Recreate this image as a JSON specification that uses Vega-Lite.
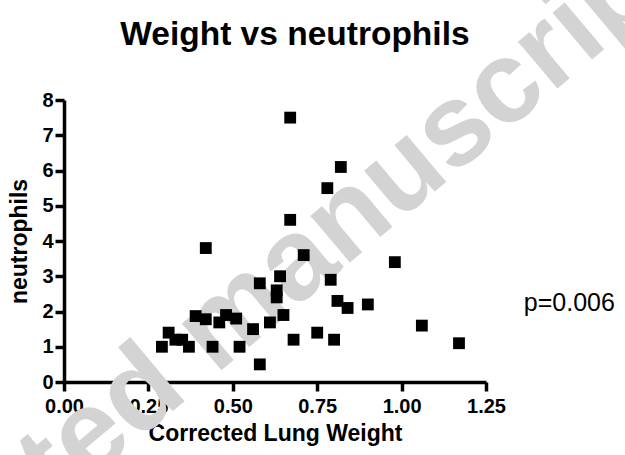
{
  "$schema": "https://vega.github.io/schema/vega-lite/v6.json",
  "width": 422,
  "height": 282,
  "autosize": "none",
  "padding": {"left": 64, "top": 100, "right": 139, "bottom": 73},
  "background": "white",
  "config": {
    "view": {"stroke": null},
    "axis": {
      "grid": false,
      "zindex": 1,
      "domainColor": "black",
      "domainWidth": 3.5,
      "tickColor": "black",
      "tickWidth": 3.5,
      "tickSize": 9,
      "labelFont": "Liberation Sans",
      "labelFontSize": 20,
      "labelFontWeight": "bold",
      "labelColor": "black",
      "labelOverlap": false,
      "titleFont": "Liberation Sans",
      "titleFontSize": 23,
      "titleFontWeight": "bold",
      "titleColor": "black"
    }
  },
  "datasets": {
    "points": [
      {"weight": 0.29, "neutrophils": 1.0},
      {"weight": 0.31, "neutrophils": 1.4},
      {"weight": 0.33, "neutrophils": 1.2},
      {"weight": 0.35, "neutrophils": 1.2},
      {"weight": 0.37, "neutrophils": 1.0},
      {"weight": 0.39, "neutrophils": 1.87},
      {"weight": 0.42, "neutrophils": 1.78},
      {"weight": 0.42, "neutrophils": 3.8},
      {"weight": 0.44, "neutrophils": 1.0},
      {"weight": 0.46, "neutrophils": 1.69},
      {"weight": 0.48, "neutrophils": 1.9},
      {"weight": 0.51, "neutrophils": 1.8},
      {"weight": 0.52, "neutrophils": 1.0},
      {"weight": 0.56, "neutrophils": 1.5},
      {"weight": 0.58, "neutrophils": 2.8},
      {"weight": 0.58, "neutrophils": 0.5},
      {"weight": 0.61, "neutrophils": 1.69},
      {"weight": 0.63, "neutrophils": 2.6},
      {"weight": 0.63, "neutrophils": 2.4},
      {"weight": 0.64, "neutrophils": 3.0},
      {"weight": 0.65, "neutrophils": 1.9},
      {"weight": 0.67, "neutrophils": 7.5},
      {"weight": 0.67, "neutrophils": 4.6},
      {"weight": 0.68, "neutrophils": 1.2},
      {"weight": 0.71, "neutrophils": 3.6},
      {"weight": 0.75, "neutrophils": 1.4},
      {"weight": 0.78, "neutrophils": 5.5},
      {"weight": 0.82, "neutrophils": 6.1},
      {"weight": 0.79, "neutrophils": 2.9},
      {"weight": 0.81, "neutrophils": 2.3},
      {"weight": 0.84, "neutrophils": 2.1},
      {"weight": 0.90, "neutrophils": 2.2},
      {"weight": 0.98, "neutrophils": 3.4},
      {"weight": 0.80, "neutrophils": 1.2},
      {"weight": 1.06, "neutrophils": 1.6},
      {"weight": 1.17, "neutrophils": 1.1}
    ],
    "watermark": [{"label": "Accepted manuscript"}],
    "annotation": [{"label": "p=0.006"}],
    "heading": [{"label": "Weight vs neutrophils"}]
  },
  "layer": [
    {
      "data": {"name": "watermark"},
      "mark": {"type": "text", "font": "Liberation Sans", "fontSize": 116, "fontWeight": "bold", "color": "#d3d3d3", "angle": -40, "align": "center", "baseline": "middle"},
      "encoding": {
        "x": {"datum": 0.462, "type": "quantitative", "title": "Corrected Lung Weight", "scale": {"domain": [0, 1.25], "nice": false, "zero": false}, "axis": {"values": [0, 0.25, 0.5, 0.75, 1.0, 1.25], "format": ".2f", "labelPadding": 5, "titlePadding": 6, "labelFlush": false}},
        "y": {"datum": 1.59, "type": "quantitative", "title": "neutrophils", "scale": {"domain": [0, 8], "nice": false}, "axis": {"values": [0, 1, 2, 3, 4, 5, 6, 7, 8], "labelPadding": 2, "titlePadding": 10, "labelFlush": false}},
        "text": {"field": "label"}
      }
    },
    {
      "data": {"name": "points"},
      "mark": {"type": "point", "shape": "square", "filled": true, "size": 140, "color": "black", "opacity": 1, "strokeWidth": 0},
      "encoding": {
        "x": {"field": "weight", "type": "quantitative", "title": "Corrected Lung Weight", "scale": {"domain": [0, 1.25], "nice": false, "zero": false}, "axis": {"values": [0, 0.25, 0.5, 0.75, 1.0, 1.25], "format": ".2f", "labelPadding": 5, "titlePadding": 6, "labelFlush": false}},
        "y": {"field": "neutrophils", "type": "quantitative", "title": "neutrophils", "scale": {"domain": [0, 8], "nice": false}, "axis": {"values": [0, 1, 2, 3, 4, 5, 6, 7, 8], "labelPadding": 2, "titlePadding": 10, "labelFlush": false}}
      }
    },
    {
      "data": {"name": "annotation"},
      "mark": {"type": "text", "font": "Liberation Sans", "fontSize": 25, "color": "black", "align": "left", "baseline": "middle"},
      "encoding": {
        "x": {"datum": 1.362, "type": "quantitative", "title": "Corrected Lung Weight", "scale": {"domain": [0, 1.25], "nice": false, "zero": false}, "axis": {"values": [0, 0.25, 0.5, 0.75, 1.0, 1.25], "format": ".2f", "labelPadding": 5, "titlePadding": 6, "labelFlush": false}},
        "y": {"datum": 2.24, "type": "quantitative", "title": "neutrophils", "scale": {"domain": [0, 8], "nice": false}, "axis": {"values": [0, 1, 2, 3, 4, 5, 6, 7, 8], "labelPadding": 2, "titlePadding": 10, "labelFlush": false}},
        "text": {"field": "label"}
      }
    },
    {
      "data": {"name": "heading"},
      "mark": {"type": "text", "font": "Liberation Sans", "fontSize": 33.5, "fontWeight": "bold", "color": "black", "align": "center", "baseline": "alphabetic"},
      "encoding": {
        "x": {"datum": 0.684, "type": "quantitative", "title": "Corrected Lung Weight", "scale": {"domain": [0, 1.25], "nice": false, "zero": false}, "axis": {"values": [0, 0.25, 0.5, 0.75, 1.0, 1.25], "format": ".2f", "labelPadding": 5, "titlePadding": 6, "labelFlush": false}},
        "y": {"datum": 9.57, "type": "quantitative", "title": "neutrophils", "scale": {"domain": [0, 8], "nice": false}, "axis": {"values": [0, 1, 2, 3, 4, 5, 6, 7, 8], "labelPadding": 2, "titlePadding": 10, "labelFlush": false}},
        "text": {"field": "label"}
      }
    }
  ]
}
